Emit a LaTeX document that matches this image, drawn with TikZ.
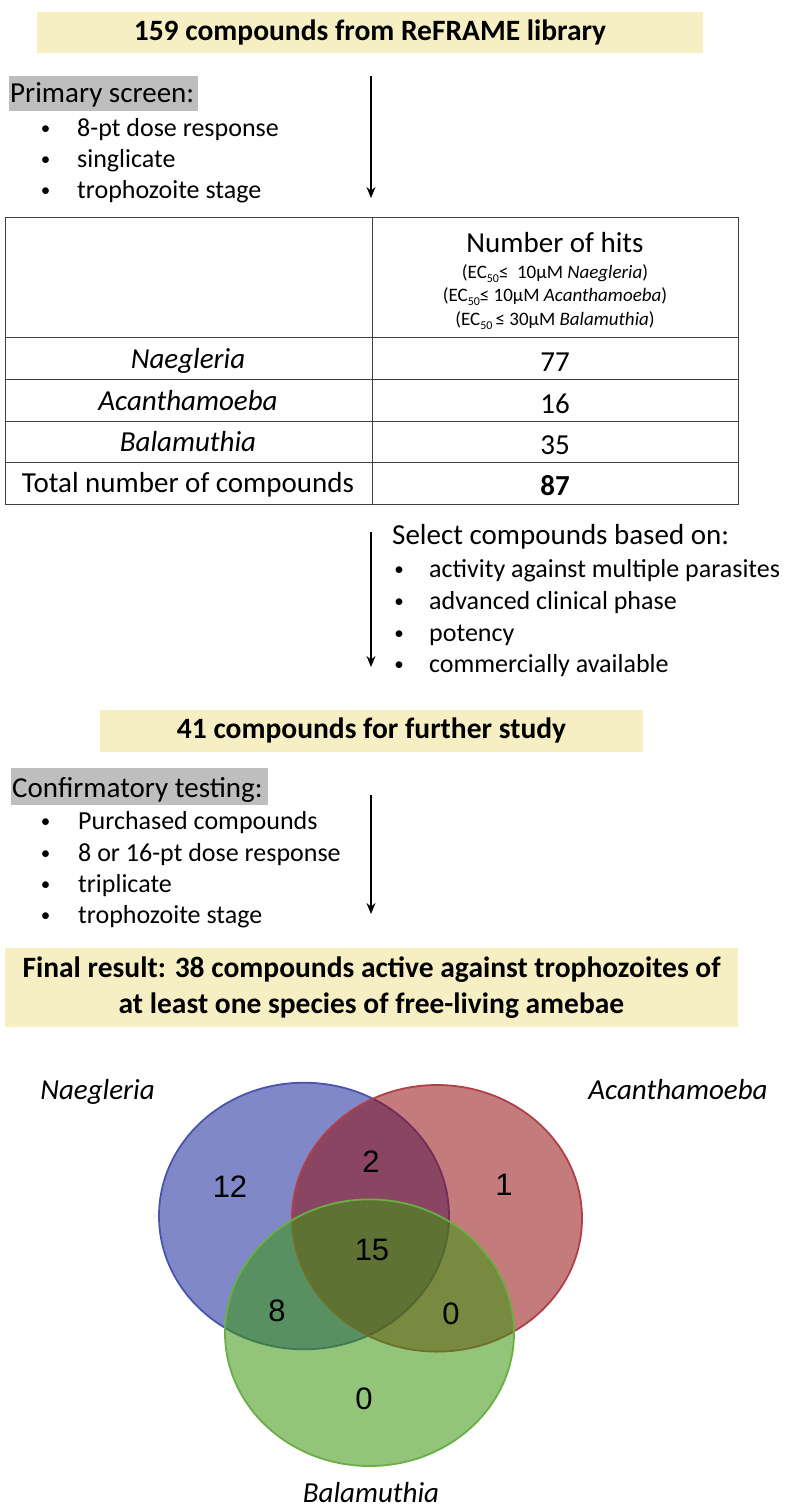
\documentclass[tikz,border=0pt]{standalone}
\usepackage{fontspec}
\setmainfont{Carlito}
\newfontfamily\arialf{Liberation Sans}
\usetikzlibrary{arrows.meta}
\definecolor{boxyellow}{HTML}{F7EFC4}
\definecolor{graybox}{HTML}{BEBEBE}
\definecolor{tablegray}{HTML}{404040}
\definecolor{vblue}{RGB}{24,39,155}
\definecolor{vred}{RGB}{148,15,17}
\definecolor{vgreen}{RGB}{57,151,13}
\definecolor{vbluel}{RGB}{74,85,176}
\definecolor{vredl}{RGB}{176,64,74}
\definecolor{vgreenl}{RGB}{106,174,69}
\newcommand\subfifty{\raisebox{-0.22em}{\fontsize{12}{12}\selectfont 50}}
\tikzset{
  ybox/.style={fill=boxyellow, draw=none, inner sep=0, text height=21pt, text depth=6pt,
    font=\bfseries\fontsize{29.5}{35}\selectfont},
  gbox/.style={fill=graybox, draw=none, inner sep=0, anchor=north west},
  head/.style={font=\fontsize{29}{34}\selectfont, inner sep=0, anchor=base west},
  item/.style={font=\fontsize{26}{31}\selectfont, inner sep=0, anchor=base west},
  bul/.style={font=\fontsize{19}{23}\selectfont, inner sep=0, anchor=base, yshift=2pt},
  cell/.style={draw=tablegray, line width=1.2pt, inner sep=0, anchor=north west},
  ctext/.style={font=\fontsize{29}{34}\selectfont, inner sep=0, anchor=base},
  small/.style={font=\fontsize{19}{23}\selectfont, inner sep=0, anchor=base},
  btext/.style={font=\bfseries\fontsize{29.5}{35}\selectfont, inner sep=0, anchor=base},
  arr/.style={line width=1.5pt, -{Stealth[length=11pt,width=9pt]}},
  vnum/.style={font=\arialf\fontsize{31}{36}\selectfont, inner sep=0},
  vlab/.style={font=\itshape\fontsize{29}{34}\selectfont, inner sep=0, anchor=base},
  venn/.style={fill opacity=0.55, line width=1.8pt},
}
\begin{document}
\begin{tikzpicture}[x=1pt,y=-1pt]
\useasboundingbox (0,0) rectangle (790,1510);
\fill[white] (0,0) rectangle (790,1510);

% --- top box
\node[ybox, minimum width=666, minimum height=41] (top) at (370,32.5) {159 compounds from ReFRAME library};

% --- primary screen
\node[gbox, minimum width=189, minimum height=35] (psbox) at (9,76) {};
\node[head] (ps) at (10,102.7) {Primary screen:};
\node[bul] (pb1) at (45.5,136) {•};
\node[item] (pi1) at (77,136) {8-pt dose response};
\node[bul] (pb2) at (45.5,167) {•};
\node[item] (pi2) at (77,167) {singlicate};
\node[bul] (pb3) at (45.5,198) {•};
\node[item] (pi3) at (77,198) {trophozoite stage};
\coordinate (a1s) at (371,76);
\coordinate (a1e) at (371,198);
\draw[arr] (a1s) -- (a1e);

% --- table
\node[cell, minimum width=367, minimum height=120] (c11) at (5,217) {};
\node[cell, minimum width=366, minimum height=120] (c12) at (372,217) {};
\node[cell, minimum width=367, minimum height=42] (c21) at (5,337) {};
\node[cell, minimum width=366, minimum height=42] (c22) at (372,337) {};
\node[cell, minimum width=367, minimum height=42] (c31) at (5,379) {};
\node[cell, minimum width=366, minimum height=42] (c32) at (372,379) {};
\node[cell, minimum width=367, minimum height=41] (c41) at (5,421) {};
\node[cell, minimum width=366, minimum height=41] (c42) at (372,421) {};
\node[cell, minimum width=367, minimum height=42] (c51) at (5,462) {};
\node[cell, minimum width=366, minimum height=42] (c52) at (372,462) {};

\node[ctext] (hits) at (555,252) {Number of hits};
\node[small] (s1) at (555,278) {(EC\subfifty≤\ \ 10µM \textit{Naegleria})};
\node[small] (s2) at (555,301.7) {(EC\subfifty≤ 10µM \textit{Acanthamoeba})};
\node[small] (s3) at (555,325) {(EC\subfifty\,≤ 30µM \textit{Balamuthia})};

\node[ctext] (rn) at (188,368) {\textit{Naegleria}};
\node[ctext] (vn) at (555,371) {77};
\node[ctext] (ra) at (188,410) {\textit{Acanthamoeba}};
\node[ctext] (va) at (555,413) {16};
\node[ctext] (rb) at (188,451) {\textit{Balamuthia}};
\node[ctext] (vb) at (555,454) {35};
\node[ctext] (rt) at (188,492) {Total number of compounds};
\node[ctext] (vt) at (555,495) {\textbf{87}};

% --- selection
\node[head] (sel) at (392,544) {Select compounds based on:};
\node[bul] (sb1) at (399,577) {•};
\node[item] (si1) at (429,577) {activity against multiple parasites};
\node[bul] (sb2) at (399,609) {•};
\node[item] (si2) at (429,609) {advanced clinical phase};
\node[bul] (sb3) at (399,641) {•};
\node[item] (si3) at (429,641) {potency};
\node[bul] (sb4) at (399,672) {•};
\node[item] (si4) at (429,672) {commercially available};
\coordinate (a2s) at (371,532);
\coordinate (a2e) at (371,667);
\draw[arr] (a2s) -- (a2e);

% --- 41 compounds
\node[ybox, minimum width=543, minimum height=42] (mid) at (371.5,731) {41 compounds for further study};

% --- confirmatory
\node[gbox, minimum width=257, minimum height=37] (cfbox) at (11,768) {};
\node[head] (cf) at (12,797) {Confirmatory testing:};
\node[bul] (cb1) at (45.5,829) {•};
\node[item] (ci1) at (78,829) {Purchased compounds};
\node[bul] (cb2) at (45.5,861) {•};
\node[item] (ci2) at (78,861) {8 or 16-pt dose response};
\node[bul] (cb3) at (45.5,892.5) {•};
\node[item] (ci3) at (78,892.5) {triplicate};
\node[bul] (cb4) at (45.5,923) {•};
\node[item] (ci4) at (78,923) {trophozoite stage};
\coordinate (a3s) at (371,795);
\coordinate (a3e) at (371,914);
\draw[arr] (a3s) -- (a3e);

% --- final result
\node[fill=boxyellow, draw=none, inner sep=0, minimum width=733, minimum height=79, anchor=north west] (fin) at (5,948) {};
\node[btext] (f1) at (371.5,977) {Final result: 38 compounds active against trophozoites of};
\node[btext] (f2) at (371.5,1013) {at least one species of free-living amebae};

% --- Venn
\path[venn, fill=vblue, draw=vbluel] (304,1216) ellipse [x radius=145, y radius=133.3];
\path[venn, fill=vred, draw=vredl] (437,1218.3) ellipse [x radius=145, y radius=133.3];
\path[venn, fill=vgreen, draw=vgreenl] (369.5,1332.7) ellipse [x radius=144.5, y radius=133.3];

\node[vnum] (n12) at (230,1187) {12};
\node[vnum] (n2) at (371,1162) {2};
\node[vnum] (n1) at (504,1184.5) {1};
\node[vnum] (n15) at (372,1250) {15};
\node[vnum] (n8) at (277,1311) {8};
\node[vnum] (n0a) at (451,1314) {0};
\node[vnum] (n0b) at (364,1399) {0};

\node[vlab] (ln) at (97.5,1099) {Naegleria};
\node[vlab] (la) at (678,1099) {Acanthamoeba};
\node[vlab] (lb) at (371,1502) {Balamuthia};
\end{tikzpicture}
\end{document}
